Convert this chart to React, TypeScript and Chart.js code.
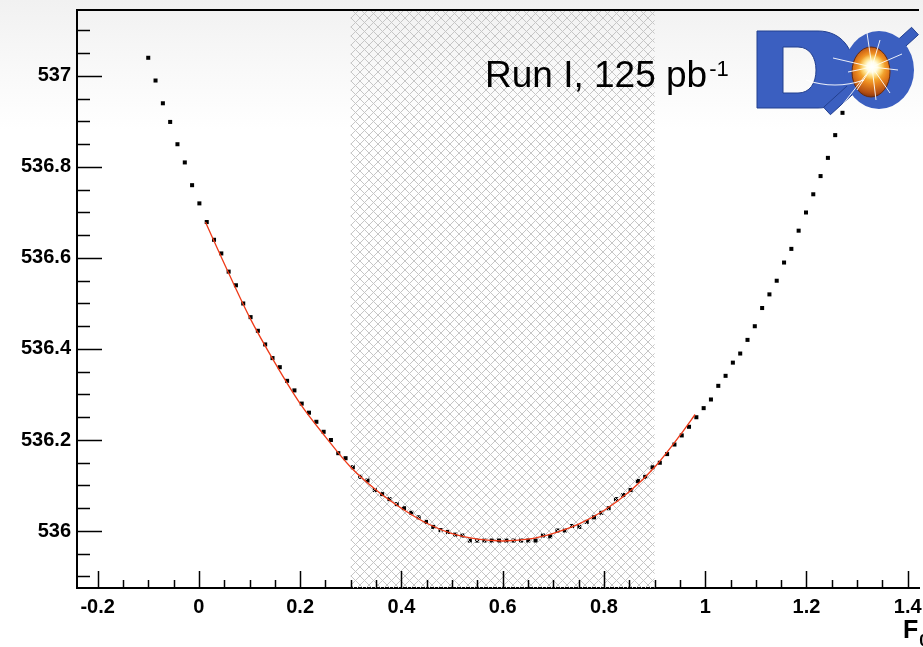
import React, { useEffect, useRef } from 'react';
import { Chart, registerables } from 'chart.js';

Chart.register(...registerables);

// ---- data ----
const scanX = [
  -0.1, -0.0856, -0.0711, -0.0567, -0.0423, -0.0278, -0.0134, 0.001, 0.0155, 0.0299,
  0.0443, 0.0588, 0.0732, 0.0876, 0.1021, 0.1165, 0.1309, 0.1454, 0.1598, 0.1742,
  0.1887, 0.2031, 0.2175, 0.232, 0.2464, 0.2608, 0.2753, 0.2897, 0.3041, 0.3186,
  0.333, 0.3474, 0.3619, 0.3763, 0.3907, 0.4052, 0.4196, 0.434, 0.4485, 0.4629,
  0.4773, 0.4918, 0.5062, 0.5206, 0.5351, 0.5495, 0.5639, 0.5784, 0.5928, 0.6072,
  0.6216, 0.6361, 0.6505, 0.6649, 0.6794, 0.6938, 0.7082, 0.7227, 0.7371, 0.7515,
  0.766, 0.7804, 0.7948, 0.8093, 0.8237, 0.8381, 0.8526, 0.867, 0.8814, 0.8959,
  0.9103, 0.9247, 0.9392, 0.9536, 0.968, 0.9825, 0.9969, 1.0113, 1.0258, 1.0402,
  1.0546, 1.0691, 1.0835, 1.0979, 1.1124, 1.1268, 1.1412, 1.1557, 1.1701, 1.1845,
  1.199, 1.2134, 1.2278, 1.2423, 1.2567, 1.2711, 1.2856, 1.3,
];
const scanY = [
  537.04, 536.99, 536.94, 536.899, 536.85, 536.81, 536.76, 536.72, 536.679, 536.64,
  536.61, 536.57, 536.54, 536.5, 536.47, 536.44, 536.41, 536.38, 536.36, 536.33,
  536.309, 536.28, 536.26, 536.24, 536.218, 536.2, 536.171, 536.16, 536.14, 536.119,
  536.111, 536.09, 536.081, 536.07, 536.059, 536.05, 536.04, 536.03, 536.02, 536.009,
  536.002, 535.998, 535.992, 535.99, 535.979, 535.979, 535.979, 535.979, 535.979, 535.979,
  535.979, 535.979, 535.979, 535.979, 535.99, 535.988, 536.001, 536.001, 536.011, 536.009,
  536.02, 536.03, 536.04, 536.05, 536.07, 536.079, 536.09, 536.11, 536.119, 536.14,
  536.15, 536.169, 536.19, 536.21, 536.229, 536.25, 536.27, 536.289, 536.319, 536.341,
  536.37, 536.39, 536.42, 536.45, 536.49, 536.52, 536.55, 536.59, 536.62, 536.66,
  536.7, 536.74, 536.78, 536.82, 536.87, 536.919, 536.97, 537.02,
];
const fitX = [0.013, 0.05, 0.1, 0.15, 0.2, 0.25, 0.3, 0.35, 0.4, 0.45, 0.5, 0.55, 0.6, 0.65, 0.7, 0.75, 0.8, 0.85, 0.9, 0.95, 0.98];
const fitY = [536.679, 536.588, 536.47, 536.37, 536.28, 536.207, 536.14, 536.09, 536.05, 536.017, 535.994, 535.982, 535.978, 535.982, 535.995, 536.015, 536.045, 536.086, 536.14, 536.21, 536.256];

const xRange = [-0.2407, 1.4222];
const yRange = [535.8747, 537.145];
const minorStep = 0.05;
const majorStep = 0.2;
const hatchRange = [0.3, 0.9];
const runText = 'Run I, 125 pb';
const runSup = '-1';
const xTitle = 'F';
const xTitleSub = '0';

const FONT = '"Liberation Sans", Arial, Helvetica, sans-serif';

function isMajor(v: number) {
  const r = v / majorStep;
  return Math.abs(r - Math.round(r)) < 1e-6;
}
function fmt(v: number) {
  const n = Number(v.toFixed(1));
  return String(n === 0 ? 0 : n);
}

function drawLogo(ctx: CanvasRenderingContext2D) {
  const blue = '#3b5fc0';
  const edge = '#23408f';
  ctx.save();
  ctx.lineJoin = 'round';
  // letter D
  ctx.beginPath();
  ctx.moveTo(757, 31);
  ctx.lineTo(818, 31);
  ctx.bezierCurveTo(842, 31, 854, 50, 854, 70);
  ctx.bezierCurveTo(854, 92, 840, 108, 818, 108);
  ctx.lineTo(757, 108);
  ctx.closePath();
  ctx.moveTo(783, 47);
  ctx.lineTo(798, 47);
  ctx.bezierCurveTo(810, 47, 816, 58, 816, 70);
  ctx.bezierCurveTo(816, 83, 810, 93, 798, 93);
  ctx.lineTo(783, 93);
  ctx.closePath();
  ctx.fillStyle = blue;
  ctx.fill('evenodd');
  ctx.strokeStyle = edge;
  ctx.lineWidth = 1;
  ctx.stroke();
  // slash
  ctx.beginPath();
  ctx.moveTo(823.6, 107.3);
  ctx.lineTo(911.6, 27.3);
  ctx.lineTo(918.4, 34.7);
  ctx.lineTo(830.4, 114.7);
  ctx.closePath();
  ctx.fillStyle = blue;
  ctx.fill();
  ctx.stroke();
  // ring
  ctx.beginPath();
  ctx.ellipse(879, 70, 35, 39, 0, 0, Math.PI * 2);
  ctx.fillStyle = blue;
  ctx.fill();
  // core
  const g = ctx.createRadialGradient(872, 66, 1, 872, 70, 28);
  g.addColorStop(0, '#fffbe0');
  g.addColorStop(0.25, '#ffd04a');
  g.addColorStop(0.55, '#e9851e');
  g.addColorStop(0.85, '#b24e14');
  g.addColorStop(1, '#7a300e');
  ctx.beginPath();
  ctx.ellipse(871, 72, 19, 25, 0, 0, Math.PI * 2);
  ctx.fillStyle = g;
  ctx.fill();
  ctx.strokeStyle = '#6b2a0c';
  ctx.stroke();
  // white swoosh
  ctx.beginPath();
  ctx.moveTo(806, 80);
  ctx.quadraticCurveTo(835, 90, 864, 80);
  ctx.strokeStyle = 'rgba(255,255,255,0.9)';
  ctx.lineWidth = 1.2;
  ctx.stroke();
  // rays
  const cx = 872, cy = 67;
  const rays: [number, number][] = [
    [833, 58], [840, 108], [867, 33], [902, 54], [890, 93], [880, 40], [857, 90], [898, 70], [848, 72], [876, 100],
  ];
  ctx.lineWidth = 1;
  for (const [rx, ry] of rays) {
    ctx.beginPath();
    ctx.moveTo(cx, cy);
    ctx.lineTo(rx, ry);
    ctx.stroke();
  }
  const glow = ctx.createRadialGradient(cx, cy, 0, cx, cy, 13);
  glow.addColorStop(0, 'rgba(255,255,255,1)');
  glow.addColorStop(0.4, 'rgba(255,255,240,0.9)');
  glow.addColorStop(1, 'rgba(255,240,180,0)');
  ctx.beginPath();
  ctx.arc(cx, cy, 13, 0, Math.PI * 2);
  ctx.fillStyle = glow;
  ctx.fill();
  ctx.restore();
}

const decor = {
  id: 'decor',
  beforeDraw(chart: any) {
    const { ctx, width, height } = chart;
    ctx.save();
    ctx.fillStyle = '#ffffff';
    ctx.fillRect(0, 0, width, height);
    const g = ctx.createLinearGradient(0, 0, 0, 130);
    g.addColorStop(0, '#f1f1f1');
    g.addColorStop(0.55, '#f9f9f9');
    g.addColorStop(1, '#ffffff');
    ctx.fillStyle = g;
    ctx.fillRect(0, 0, width, 130);
    ctx.restore();
  },
  beforeDatasetDraw(chart: any, args: any) {
    if (args.index !== 1) return;
    const { ctx, chartArea } = chart;
    const x = chart.scales.x;
    const x0 = x.getPixelForValue(hatchRange[0]);
    const x1 = x.getPixelForValue(hatchRange[1]);
    const pc = document.createElement('canvas');
    pc.width = 9;
    pc.height = 9;
    const p = pc.getContext('2d')!;
    p.strokeStyle = '#c6c6c6';
    p.lineWidth = 1;
    p.beginPath();
    p.moveTo(0, 0); p.lineTo(9, 9);
    p.moveTo(9, 0); p.lineTo(0, 9);
    p.stroke();
    const pat = ctx.createPattern(pc, 'repeat');
    ctx.save();
    ctx.fillStyle = pat;
    ctx.fillRect(x0, chartArea.top, x1 - x0, chartArea.bottom - chartArea.top);
    ctx.restore();
  },
  afterDraw(chart: any) {
    const { ctx, chartArea } = chart;
    const xs = chart.scales.x;
    const ys = chart.scales.y;
    ctx.save();
    ctx.strokeStyle = '#000';
    ctx.lineWidth = 1.5;
    // inward ticks
    ctx.beginPath();
    for (const t of xs.ticks) {
      const px = Math.round(xs.getPixelForValue(t.value)) + 0.5;
      const len = isMajor(t.value) ? 17 : 8;
      ctx.moveTo(px, chartArea.bottom);
      ctx.lineTo(px, chartArea.bottom - len);
    }
    for (const t of ys.ticks) {
      const py = Math.round(ys.getPixelForValue(t.value)) + 0.5;
      const len = isMajor(t.value) ? 25 : 13;
      ctx.moveTo(chartArea.left, py);
      ctx.lineTo(chartArea.left + len, py);
    }
    ctx.stroke();
    // top frame
    ctx.lineWidth = 2;
    ctx.beginPath();
    ctx.moveTo(chartArea.left - 1, chartArea.top);
    ctx.lineTo(chartArea.right, chartArea.top);
    ctx.stroke();
    // run label
    ctx.fillStyle = '#000';
    ctx.textBaseline = 'alphabetic';
    ctx.font = `37px ${FONT}`;
    ctx.fillText(runText, 485, 87);
    const w = ctx.measureText(runText).width;
    ctx.font = `22px ${FONT}`;
    ctx.fillText(runSup, 485 + w + 2, 76);
    // axis title
    ctx.font = `bold 25px ${FONT}`;
    ctx.fillText(xTitle, 903, 638);
    const fw = ctx.measureText(xTitle).width;
    ctx.font = `bold 17px ${FONT}`;
    ctx.fillText(xTitleSub, 903 + fw + 1, 646);
    ctx.restore();
    drawLogo(ctx);
  },
};

export default function App() {
  const ref = useRef<HTMLCanvasElement | null>(null);
  useEffect(() => {
    if (!ref.current) return;
    const chart = new Chart(ref.current, {
      type: 'scatter',
      data: {
        datasets: [
          {
            label: 'scan',
            data: scanX.map((x, i) => ({ x, y: scanY[i] })),
            pointStyle: 'rect',
            pointRadius: 2.85,
            pointBorderWidth: 0,
            pointBackgroundColor: '#000',
            showLine: false,
            order: 2,
          },
          {
            label: 'fit',
            type: 'line',
            data: fitX.map((x, i) => ({ x, y: fitY[i] })),
            borderColor: '#ee3a18',
            borderWidth: 1.3,
            pointRadius: 0,
            showLine: true,
            fill: false,
            cubicInterpolationMode: 'monotone',
            order: 1,
          } as any,
        ],
      },
      options: {
        responsive: false,
        animation: false,
        events: [],
        layout: { padding: { top: 10, left: 0, right: 0, bottom: 0 } },
        plugins: { legend: { display: false }, tooltip: { enabled: false } },
        scales: {
          x: {
            type: 'linear',
            min: xRange[0],
            max: xRange[1],
            grid: { display: false, drawTicks: false },
            border: { display: true, color: '#000', width: 2 },
            ticks: {
              stepSize: minorStep,
              includeBounds: false,
              autoSkip: false,
              maxRotation: 0,
              minRotation: 0,
              padding: 7,
              color: '#000',
              font: { family: FONT, size: 20, weight: 'bold' },
              callback: (v: any) => (isMajor(Number(v)) ? fmt(Number(v)) : ''),
            },
            afterFit: (s: any) => {
              s.height = 59;
              s.paddingLeft = 0;
              s.paddingRight = 0;
            },
          },
          y: {
            type: 'linear',
            min: yRange[0],
            max: yRange[1],
            grid: { display: false, drawTicks: false },
            border: { display: true, color: '#000', width: 2 },
            ticks: {
              stepSize: minorStep,
              includeBounds: false,
              autoSkip: false,
              padding: 6,
              color: '#000',
              font: { family: FONT, size: 20, weight: 'bold' },
              callback: (v: any) => (isMajor(Number(v)) ? fmt(Number(v)) : ''),
            },
            afterFit: (s: any) => {
              s.width = 77;
              s.paddingTop = 0;
              s.paddingBottom = 0;
            },
          },
        },
      } as any,
      plugins: [decor],
    });
    return () => chart.destroy();
  }, []);
  return (
    <div style={{ position: 'fixed', left: 0, top: 0, width: 923, height: 647, overflow: 'hidden', background: '#fff' }}>
      <canvas ref={ref} width={923} height={647} style={{ display: 'block', width: 923, height: 647 }} />
    </div>
  );
}
